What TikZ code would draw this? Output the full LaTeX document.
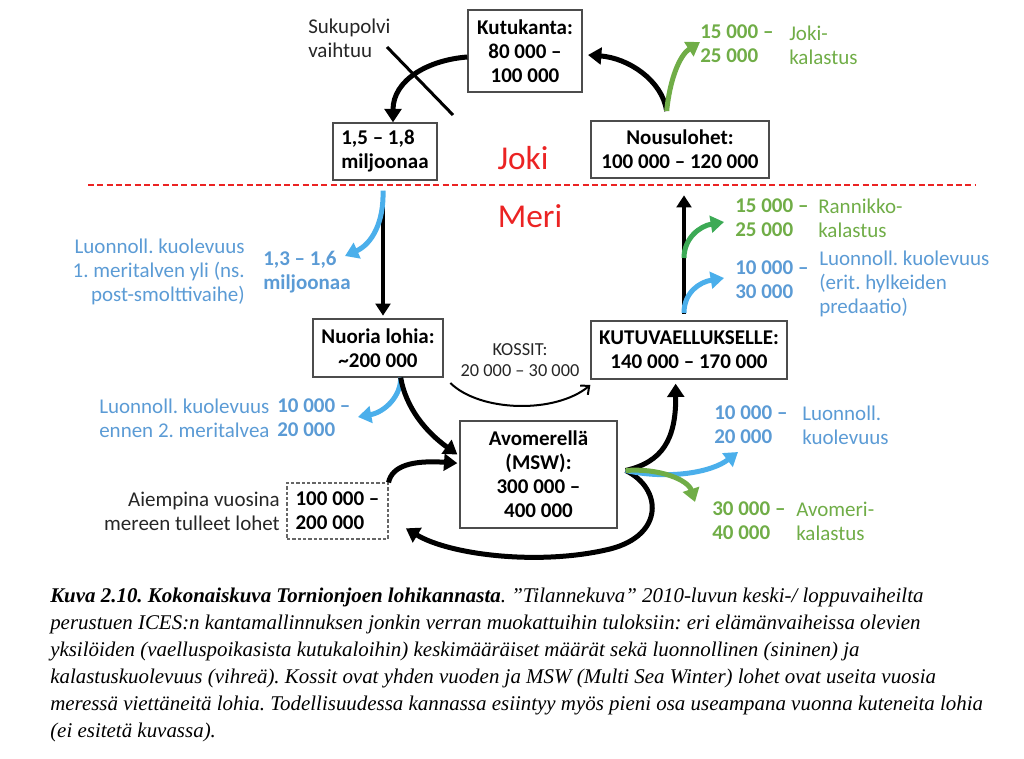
\documentclass[tikz,border=0pt]{standalone}
\usepackage{fontspec}
\setmainfont{Carlito}
\newfontfamily\capfont{Liberation Serif}
\usetikzlibrary{arrows.meta}
\definecolor{kuolblue}{RGB}{91,155,213}
\definecolor{nuolblue}{RGB}{75,175,235}
\definecolor{kalgreen}{RGB}{112,173,71}
\definecolor{ranngreen}{RGB}{60,170,85}
\definecolor{rajared}{RGB}{235,35,35}

\begin{document}
\frenchspacing
\begin{tikzpicture}[x=0.75pt,y=-0.75pt,
  box/.style={draw=black!70,line width=1pt,inner sep=0pt,align=center,font=\fontsize{15.75pt}{18pt}\selectfont\bfseries},
  txt/.style={inner sep=0pt,font=\fontsize{15.75pt}{18pt}\selectfont},
  lab/.style={txt,align=left,anchor=west},
  num/.style={txt,font=\fontsize{15.75pt}{18pt}\selectfont\bfseries,align=left,anchor=west},
  alue/.style={txt,text=rajared,font=\fontsize{25pt}{30pt}\selectfont},
  flow/.style={line width=3.75pt,-{Triangle[length=10pt,width=12.5pt]}},
  vflow/.style={line width=2.6pt,-{Triangle[length=9pt,width=11pt]}},
  kflow/.style={line width=1.5pt,-{Straight Barb[length=5pt,width=9pt]}},
  kuvarivi/.style={anchor=base west,inner sep=0pt,font=\capfont\itshape\fontsize{15.7pt}{18pt}\selectfont}]
\useasboundingbox (0,0) rectangle (1024,759);

% Joki
\node[box,minimum width=85.5pt,minimum height=61.5pt] (kutu) at (525,51) {Kutukanta:\\80 000 –\\100 000};
\node[box,align=left,minimum width=78pt,minimum height=42.75pt] (smolt) at (385,151.5) {1,5 – 1,8\\miljoonaa};
\node[box,minimum width=133.5pt,minimum height=42.75pt] (nousu) at (680,149.5) {Nousulohet:\\100 000 – 120 000};
\node[lab,text=black!85] (sukup) at (308,38) {Sukupolvi\\vaihtuu};
\node[alue] (joki) at (523,158) {Joki};
\node[alue] (meri) at (530,216) {Meri};
\draw[rajared,line width=1.3pt,dash pattern=on 4.5pt off 2.5pt] (88,185) -- (975,185);

% Meri
\node[box,minimum width=97.5pt,minimum height=43.5pt] (nuoria) at (378,348) {Nuoria lohia:\\\textasciitilde200 000};
\node[box,minimum width=147pt,minimum height=43.5pt] (kutuv) at (689,350) {KUTUVAELLUKSELLE:\\140 000 – 170 000};
\node[box,minimum width=117.75pt,minimum height=80.25pt] (avo) at (538.5,474.5) {Avomerellä\\(MSW):\\300 000 –\\400 000};
\node[box,draw=black!60,line width=0.8pt,dash pattern=on 2.5pt off 1.5pt,align=left,minimum width=75.75pt,minimum height=42pt] (aiemp) at (337.5,511) {100 000 –\\200 000};
\node[txt,align=right,anchor=east,text=black!85] (aiemptxt) at (280,511) {Aiempina vuosina\\mereen tulleet lohet};
\node[txt,font=\fontsize{13.75pt}{15.75pt}\selectfont,align=center,text=black!85] (kossit) at (520,360.5) {KOSSIT:\\20 000 – 30 000};

% kuolevuus ja kalastus
\node[num,text=kalgreen] (jokinum) at (700,44) {15 000 –\\25 000};
\node[lab,text=kalgreen] (jokikal) at (789,45) {Joki-\\kalastus};
\node[num,text=kalgreen] (rannnum) at (735,218) {15 000 –\\25 000};
\node[lab,text=kalgreen] (rannkal) at (818,218) {Rannikko-\\kalastus};
\node[num,text=kuolblue] (hylknum) at (735,280) {10 000 –\\30 000};
\node[lab,text=kuolblue] (hylkkal) at (819,284) {Luonnoll. kuolevuus\\(erit. hylkeiden\\predaatio)};
\node[txt,text=kuolblue,align=right,anchor=east] (smoltkuol) at (245,272) {Luonnoll. kuolevuus\\1. meritalven yli (ns.\\post-smolttivaihe)};
\node[num,text=kuolblue] (smoltnum) at (263,272) {1,3 – 1,6\\miljoonaa};
\node[lab,text=kuolblue] (ennenkuol) at (99,418) {Luonnoll. kuolevuus\\ennen 2. meritalvea};
\node[num,text=kuolblue] (ennennum) at (277,418) {10 000 –\\20 000};
\node[num,text=kuolblue] (avokuolnum) at (714,425) {10 000 –\\20 000};
\node[lab,text=kuolblue] (avokuol) at (802,425) {Luonnoll.\\kuolevuus};
\node[num,text=kalgreen] (avokalnum) at (712,521) {30 000 –\\40 000};
\node[lab,text=kalgreen] (avokal) at (796,521) {Avomeri-\\kalastus};

% haarojen pisteet
\coordinate (nousuout) at ([xshift=-10pt,yshift=7pt]nousu.north);
\coordinate (jokitip) at (700,42);
\coordinate (kutuvout) at ([xshift=-3.75pt,yshift=5pt]kutuv.north);
\coordinate (rannout) at (684,258);
\coordinate (ranntip) at (724,222);
\coordinate (hylkout) at (684,313);
\coordinate (hylktip) at (724,278);
\coordinate (smoltout) at ([xshift=-1.5pt,yshift=-7.5pt]smolt.south);
\coordinate (smolttip) at (345,256);
\coordinate (nuoriaout) at ([xshift=17pt]nuoria.south);
\coordinate (ennentip) at (358,417);
\coordinate (avoout) at ([xshift=6pt,yshift=3pt]avo.east);
\coordinate (avokuoltip) at (738,452);
\coordinate (avokaltip) at (695,502);

% nuolet
\draw[flow] ([yshift=-4.5pt]kutu.west) .. controls (428,60) and (393,80) .. ([xshift=6pt]smolt.north);
\draw[line width=2.25pt] (387,47) -- (453,115);
\draw[flow] (nousuout) .. controls (662,80) and (628,58) .. ([xshift=4pt,yshift=-3pt]kutu.east);
\draw[flow,kalgreen] (nousuout) .. controls (670,78) and (680,55) .. (jokitip);
\draw[vflow] (kutuvout) -- ([xshift=3pt,yshift=-12.5pt]nousu.south);
\draw[flow,ranngreen] (rannout) .. controls (684,238) and (700,226) .. (ranntip);
\draw[flow,nuolblue] (hylkout) .. controls (684,292) and (700,282) .. (hylktip);
\draw[vflow] (smoltout) -- ([xshift=3.75pt,yshift=2pt]nuoria.north);
\draw[flow,nuolblue] (smoltout) .. controls (384,222) and (372,244) .. (smolttip);
\draw[flow,nuolblue] (nuoriaout) .. controls (401,396) and (385,412) .. (ennentip);
\draw[flow] (nuoriaout) .. controls (406,408) and (426,432) .. ([xshift=-1.5pt,yshift=15pt]avo.west);
\draw[kflow] ([xshift=5pt,yshift=-4pt]nuoria.south east) .. controls (480,412) and (555,414) .. ([yshift=-4pt]kutuv.south west);
\draw[flow] (avoout) .. controls (662,462) and (676,440) .. ([xshift=-10pt,yshift=-3pt]kutuv.south);
\draw[flow] (avoout) .. controls (662,488) and (665,535) .. (610,549) .. controls (540,566) and (450,555) .. ([xshift=13pt,yshift=-13pt]aiemp.east);
\draw[flow] (aiemp.north east) .. controls (392,466) and (412,460) .. ([xshift=-1.5pt,yshift=8.5pt]avo.west);
\draw[flow,nuolblue] (avoout) .. controls (670,480) and (712,472) .. (avokuoltip);
\draw[flow,kalgreen] (avoout) .. controls (660,468) and (688,480) .. (avokaltip);

% kuvateksti
\foreach \rivi [count=\k] in {
  {\textbf{Kuva 2.10. Kokonaiskuva Tornionjoen lohikannasta}. ”Tilannekuva” 2010-luvun keski-/ loppuvaiheilta},
  {perustuen ICES:n kantamallinnuksen jonkin verran muokattuihin tuloksiin: eri elämänvaiheissa olevien},
  {yksilöiden (vaelluspoikasista kutukaloihin) keskimääräiset määrät sekä luonnollinen (sininen) ja},
  {kalastuskuolevuus (vihreä). Kossit ovat yhden vuoden ja MSW (Multi Sea Winter) lohet ovat useita vuosia},
  {meressä viettäneitä lohia. Todellisuudessa kannassa esiintyy myös pieni osa useampana vuonna kuteneita lohia},
  {(ei esitetä kuvassa).}}
  \node[kuvarivi] (rivi\k) at (50,{602+27*(\k-1)}) {\rivi};
\end{tikzpicture}
\end{document}
